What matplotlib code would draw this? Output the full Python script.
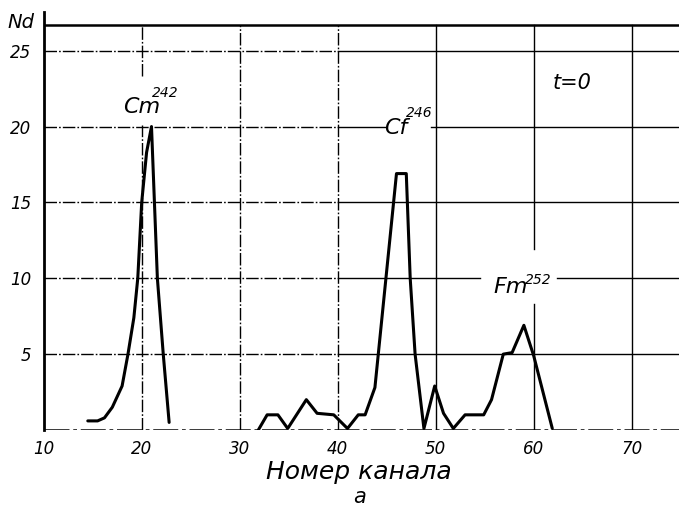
import matplotlib
matplotlib.use("Agg")
import matplotlib.pyplot as plt

# ---- data ----
cm_x = [14.5, 15.5, 16.2, 17.0, 18.0, 18.6, 19.2, 19.6, 20.0, 20.5, 21.0, 21.6, 22.2, 22.8]
cm_y = [0.6, 0.6, 0.8, 1.5, 2.9, 5.0, 7.4, 10.0, 15.0, 18.3, 20.0, 10.0, 5.0, 0.5]

ch_x = [31.9, 32.8, 33.9, 34.9, 36.8, 37.9, 39.6, 41.0, 42.1, 42.8, 43.8, 46.0, 47.0,
        47.4, 47.9, 48.8, 49.9, 50.8, 51.8, 53.0, 54.9, 55.7, 56.9, 57.8, 59.0, 60.0, 61.9]
ch_y = [0.0, 1.0, 1.0, 0.1, 2.0, 1.1, 1.0, 0.1, 1.0, 1.0, 2.8, 16.9, 16.9,
        10.0, 5.0, 0.1, 2.9, 1.1, 0.1, 1.0, 1.0, 2.0, 5.0, 5.1, 6.9, 4.9, 0.1]

x_ticks = [10, 20, 30, 40, 50, 60, 70]
y_ticks = [5, 10, 15, 20, 25]
x_label = "Номер канала"
sub_label = "a"
y_label = "Nd"

# ---- layout ----
W, H = 679, 509
fig = plt.figure(figsize=(W / 100, H / 100), dpi=100)
ax = fig.add_axes([43.7 / W, (H - 430) / H, (W - 43.7) / W, (430 - 12) / H])
XMIN, XMAX = 10, 74.83
YMIN, YMAX = 0, 27.55
TOP = 26.7
ax.set_xlim(XMIN, XMAX)
ax.set_ylim(YMIN, YMAX)

dashdot = (0, (9, 1.5, 1.2, 1.5))
gl = dict(color="black", lw=1.0)

# horizontal grid lines: dash-dot on the left, solid on the right
hgaps = {20: (44.8, 49.5), 10: (54.5, 62.4)}
for yv in y_ticks:
    ax.plot([XMIN, 40], [yv, yv], linestyle=dashdot, **gl)
    if yv in hgaps:
        a, b = hgaps[yv]
        ax.plot([40, a], [yv, yv], **gl)
        ax.plot([b, XMAX], [yv, yv], **gl)
    else:
        ax.plot([40, XMAX], [yv, yv], **gl)

# vertical grid lines
vgaps = {20: (20.1, 23.3), 60: (8.3, 11.9)}
for xv in x_ticks[1:]:
    ls = dashdot if xv <= 40 else "-"
    if xv in vgaps:
        a, b = vgaps[xv]
        ax.plot([xv, xv], [0, a], linestyle=ls, **gl)
        ax.plot([xv, xv], [b, TOP], linestyle=ls, **gl)
    else:
        ax.plot([xv, xv], [0, TOP], linestyle=ls, **gl)

# top frame line and dashed baseline
ax.plot([XMIN, XMAX], [TOP, TOP], color="black", lw=1.8)
ax.plot([XMIN, XMAX], [0, 0], color="black", lw=1.8, linestyle=(0, (10, 1.5, 1.5, 1.5)))

# data lines
ax.plot(cm_x, cm_y, color="black", lw=2.2, solid_joinstyle="round", solid_capstyle="round")
ax.plot(ch_x, ch_y, color="black", lw=2.2, solid_joinstyle="round", solid_capstyle="round")

# spines / ticks
for s in ["top", "right", "bottom"]:
    ax.spines[s].set_visible(False)
ax.spines["left"].set_linewidth(2.0)
ax.set_xticks(x_ticks)
ax.set_yticks(y_ticks)
ax.set_xticklabels([str(v) for v in x_ticks], fontsize=12, style="italic")
ax.set_yticklabels([str(v) for v in y_ticks], fontsize=12, style="italic")
ax.tick_params(axis="x", length=0, pad=7)
ax.tick_params(axis="y", length=0, pad=9)

# annotations
ann = dict(color="black", style="italic", ha="center", va="center")
ax.text(20.0, 21.3, "Cm", fontsize=16, **ann)
ax.text(22.4, 22.2, "242", fontsize=10, **ann)
ax.text(45.9, 19.9, "Cf", fontsize=16, **ann)
ax.text(48.3, 20.9, "246", fontsize=10, **ann)
ax.text(57.6, 9.4, "Fm", fontsize=16, **ann)
ax.text(60.5, 9.9, "252", fontsize=10, **ann)
ax.text(63.9, 22.9, "t=0", fontsize=15, **ann)

fig.text(21 / W, 1 - 22 / H, y_label, fontsize=14, style="italic", ha="center", va="center")
fig.text(359 / W, 1 - 472 / H, x_label, fontsize=18, style="italic", ha="center", va="center")
fig.text(360 / W, 1 - 503 / H, sub_label, fontsize=15, style="italic", ha="center", va="baseline")

fig.savefig("out.png", dpi=100, facecolor="white")
